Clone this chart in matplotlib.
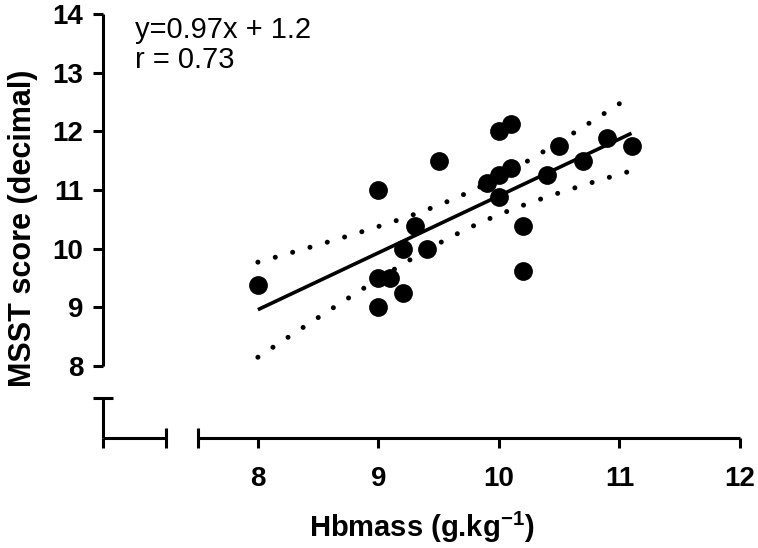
import numpy as np
import matplotlib
matplotlib.use('Agg')
import matplotlib.pyplot as plt

# ── Data ─────────────────────────────────────────────────────────────────────
hbmass = [8.0, 9.0, 9.0, 9.0, 9.1, 9.2, 9.2, 9.3, 9.4, 9.5, 9.9, 10.0,
          10.0, 10.0, 10.1, 10.1, 10.2, 10.2, 10.4, 10.5, 10.7, 10.9, 11.1]
msst   = [9.38, 11.0, 9.0, 9.5, 9.5, 9.25, 10.0, 10.38, 10.0, 11.5, 11.12, 11.25,
          10.88, 12.0, 11.38, 12.12, 10.38, 9.62, 11.25, 11.75, 11.5, 11.88, 11.75]

slope, intercept = 0.97, 1.2
r_value = 0.73

x_ticks = [8, 9, 10, 11, 12]
y_ticks = [8, 9, 10, 11, 12, 13, 14]

# ── Style ────────────────────────────────────────────────────────────────────
plt.rcParams['font.family'] = ['Liberation Sans', 'DejaVu Sans']
plt.rcParams['mathtext.fontset'] = 'custom'
plt.rcParams['mathtext.rm'] = 'Liberation Sans'
plt.rcParams['mathtext.bf'] = 'Liberation Sans:bold'

LW = 2.2
XLIM = (6.715, 12.0)
YLIM = (6.773, 14.0)

fig = plt.figure(figsize=(7.58, 5.48), dpi=100)
rect = [103 / 758, 110 / 548, 637 / 758, 424 / 548]
ax = fig.add_axes(rect)
ax.set_xlim(*XLIM)
ax.set_ylim(*YLIM)

# regression line + 95% CI of the mean
x = np.array(hbmass)
y = np.array(msst)
n = len(x)
resid = y - (slope * x + intercept)
s = np.sqrt(np.sum(resid ** 2) / (n - 2))
sxx = np.sum((x - x.mean()) ** 2)
xf = np.linspace(min(hbmass), max(hbmass), 100)
yf = slope * xf + intercept
half = 2.08 * s * np.sqrt(1 / n + (xf - x.mean()) ** 2 / sxx)

ax.plot(xf, yf, color='black', lw=2.6, solid_capstyle='butt', zorder=2)
dot = (0, (0.01, 3.6))
for band in (yf + half, yf - half):
    ax.plot(xf, band, color='black', lw=3.6, linestyle=dot,
            dash_capstyle='round', zorder=2)
ax.plot(hbmass, msst, 'o', color='black', ms=12.5, zorder=3, clip_on=False)

# ── Broken axes, Prism style ─────────────────────────────────────────────────
for side in ('top', 'right'):
    ax.spines[side].set_visible(False)
ax.spines['left'].set_bounds(8, 14)
ax.spines['bottom'].set_bounds(7.5, 12)
for sp in ('left', 'bottom'):
    ax.spines[sp].set_linewidth(LW)
    ax.spines[sp].set_capstyle('butt')

ax.set_xticks(x_ticks)
ax.set_yticks(y_ticks)
ax.set_xticks([7.5], minor=True)
ax.set_yticks([8], minor=True)
ax.tick_params(which='major', direction='out', length=7.2, width=LW,
               labelsize=20, pad=7)
ax.tick_params(axis='x', which='major', pad=13)
ax.tick_params(which='minor', direction='inout', length=15, width=LW)
for lab in ax.get_xticklabels() + ax.get_yticklabels():
    lab.set_fontweight('bold')

# origin piece of the axes
ax0 = fig.add_axes(rect)
ax0.set_xlim(*XLIM)
ax0.set_ylim(*YLIM)
ax0.patch.set_visible(False)
for side in ('top', 'right'):
    ax0.spines[side].set_visible(False)
ax0.spines['left'].set_bounds(YLIM[0], 7.455)
ax0.spines['bottom'].set_bounds(XLIM[0], 7.24)
for sp in ('left', 'bottom'):
    ax0.spines[sp].set_linewidth(LW)
    ax0.spines[sp].set_capstyle('butt')
ax0.set_xticks([XLIM[0]])
ax0.set_yticks([])
ax0.set_xticks([7.24], minor=True)
ax0.set_yticks([7.455], minor=True)
ax0.tick_params(which='major', direction='out', length=7.2, width=LW,
                labelbottom=False)
ax0.tick_params(which='minor', direction='inout', length=15, width=LW)

# ── Labels ───────────────────────────────────────────────────────────────────
ax.set_ylabel('MSST score (decimal)', fontsize=22, fontweight='bold')
ax.yaxis.set_label_coords(-0.102, 0.495)
ax.set_xlabel(r'Hbmass (g.kg$^{\mathbf{-1}}$)', fontsize=21, fontweight='bold')
ax.xaxis.set_label_coords(0.50, -0.170)

ax.text(0.05, 0.995, f'y={slope}x + {intercept}\nr = {r_value}',
        transform=ax.transAxes, fontsize=21, va='top', ha='left',
        linespacing=1.1)

fig.savefig('out.png', dpi=100)
